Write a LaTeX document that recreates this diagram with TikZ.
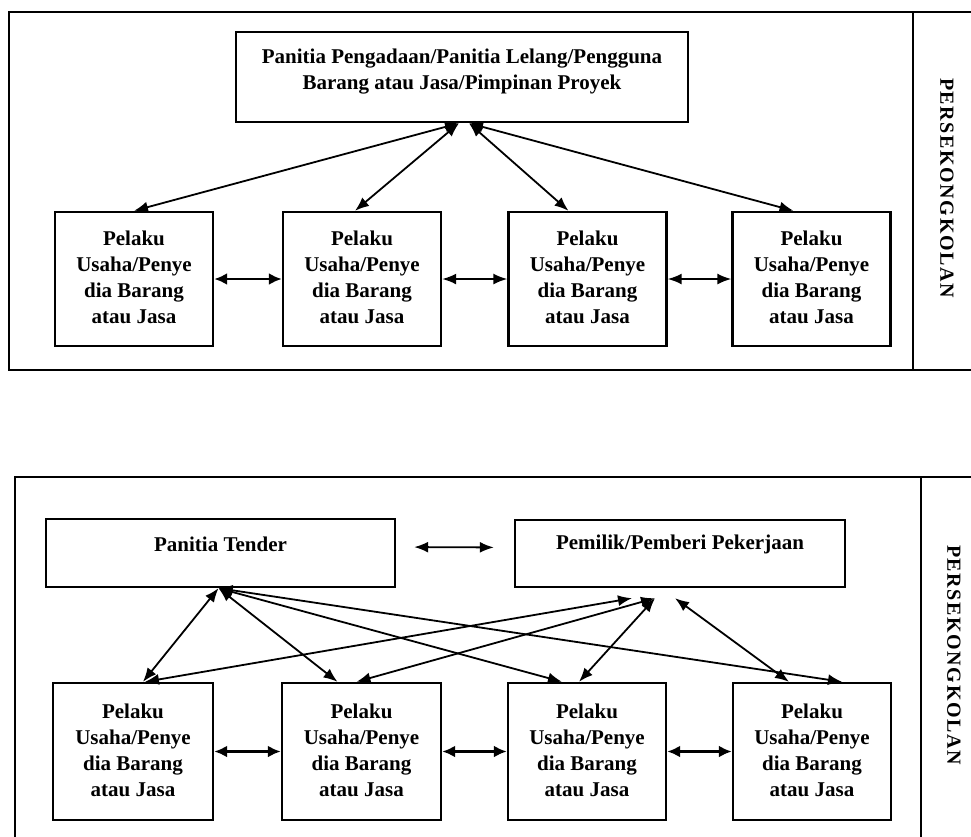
\documentclass[tikz,border=0pt]{standalone}
\usepackage{fontspec}
\setmainfont{Liberation Serif}
\usetikzlibrary{arrows.meta}
\begin{document}
\begin{tikzpicture}[x=1pt,y=-1pt,
  box/.style={draw, line width=2.4pt, inner sep=0pt},
  lbl/.style={font=\fontsize{21}{26}\selectfont\bfseries, align=center, inner sep=0pt},
  side/.style={font=\fontsize{20}{22}\selectfont\bfseries\addfontfeature{LetterSpace=8}, rotate=-90, inner sep=0pt},
  link/.style={line width=1.8pt, {Latex[length=14pt,width=11pt]}-{Latex[length=14pt,width=11pt]}},
  hlink/.style={line width=2.6pt, {Latex[length=13pt,width=12pt]}-{Latex[length=13pt,width=12pt]}},
  frame/.style={line width=2.6pt}]
\useasboundingbox (0,0) rectangle (971,836);

% ---------- top figure ----------
\draw[frame] (985,12) -- (9,12) -- (9,370) -- (985,370);
\draw[frame] (913,12) -- (913,370);
\node[side] (side1) at (947,188) {PERSEKONGKOLAN};

\node[box, minimum width=452pt, minimum height=90pt] (T) at (462,77) {};
\node[lbl] (Tt) at (462,72) {Panitia Pengadaan/Panitia Lelang/Pengguna\\Barang atau Jasa/Pimpinan Proyek};

\node[box, minimum width=158pt, minimum height=134pt] (A1) at (134,279) {};
\node[box, minimum width=158pt, minimum height=134pt] (A2) at (362,279) {};
\node[box, minimum width=158pt, minimum height=134pt] (A3) at (587.5,279) {};
\node[box, minimum width=158pt, minimum height=134pt] (A4) at (811.5,279) {};
\node[lbl] (A1t) at (134,277) {Pelaku\\Usaha/Penye\\dia Barang\\atau Jasa};
\node[lbl] (A2t) at (362,277) {Pelaku\\Usaha/Penye\\dia Barang\\atau Jasa};
\node[lbl] (A3t) at (587.5,277) {Pelaku\\Usaha/Penye\\dia Barang\\atau Jasa};
\node[lbl] (A4t) at (811.5,277) {Pelaku\\Usaha/Penye\\dia Barang\\atau Jasa};

\draw[link] ([xshift=-3pt]T.south) -- (A1.north);
\draw[link] ([xshift=-3pt]T.south) -- ([xshift=-7pt]A2.north);
\draw[link] ([xshift=7pt]T.south) -- ([xshift=-19pt]A3.north);
\draw[link] ([xshift=7pt]T.south) -- ([xshift=-18pt]A4.north);

\draw[hlink] (A1.east) -- (A2.west);
\draw[link] (A2.east) -- (A3.west);
\draw[link] (A3.east) -- (A4.west);

% ---------- bottom figure ----------
\draw[frame] (985,477) -- (15,477) -- (15,845);
\draw[frame] (921,477) -- (921,845);
\node[side] (side2) at (954,655) {PERSEKONGKOLAN};

\node[box, minimum width=349pt, minimum height=68pt] (PT) at (220.5,553) {};
\node[lbl] (PTt) at (220.5,544) {Panitia Tender};
\node[box, minimum width=330pt, minimum height=67pt] (PM) at (680,553.5) {};
\node[lbl] (PMt) at (680,544) {Pemilik/Pemberi Pekerjaan};

\draw[link, shorten <=18pt, shorten >=20pt] ([yshift=6pt]PT.east) -- ([yshift=6pt]PM.west);

\node[box, minimum width=160pt, minimum height=137pt] (B1) at (133,751.5) {};
\node[box, minimum width=159pt, minimum height=137pt] (B2) at (361.5,751.5) {};
\node[box, minimum width=158pt, minimum height=137pt] (B3) at (587,751.5) {};
\node[box, minimum width=158pt, minimum height=137pt] (B4) at (812,751.5) {};
\node[lbl] (B1t) at (133,750) {Pelaku\\Usaha/Penye\\dia Barang\\atau Jasa};
\node[lbl] (B2t) at (361.5,750) {Pelaku\\Usaha/Penye\\dia Barang\\atau Jasa};
\node[lbl] (B3t) at (587,750) {Pelaku\\Usaha/Penye\\dia Barang\\atau Jasa};
\node[lbl] (B4t) at (812,750) {Pelaku\\Usaha/Penye\\dia Barang\\atau Jasa};

% from Panitia Tender
\draw[link] ([xshift=-2pt]PT.south) -- ([xshift=10pt]B1.north);
\draw[link] ([xshift=-2pt]PT.south) -- ([xshift=-24pt]B2.north);
\draw[link] ([xshift=-2pt]PT.south) -- ([xshift=-25pt]B3.north);
\draw[link] ([xshift=-2pt]PT.south) -- ([xshift=30pt]B4.north);
% from Pemilik
\draw[link] ([xshift=-48pt,yshift=-10pt]PM.south) -- ([xshift=12pt]B1.north);
\draw[link] ([xshift=-25pt,yshift=-10pt]PM.south) -- ([xshift=-5pt]B2.north);
\draw[link] ([xshift=-25pt,yshift=-10pt]PM.south) -- ([xshift=-8pt]B3.north);
\draw[link] ([xshift=-5pt,yshift=-10pt]PM.south) -- ([xshift=-23pt]B4.north);

\draw[hlink] (B1.east) -- (B2.west);
\draw[hlink] (B2.east) -- (B3.west);
\draw[hlink] (B3.east) -- (B4.west);
\end{tikzpicture}
\end{document}
